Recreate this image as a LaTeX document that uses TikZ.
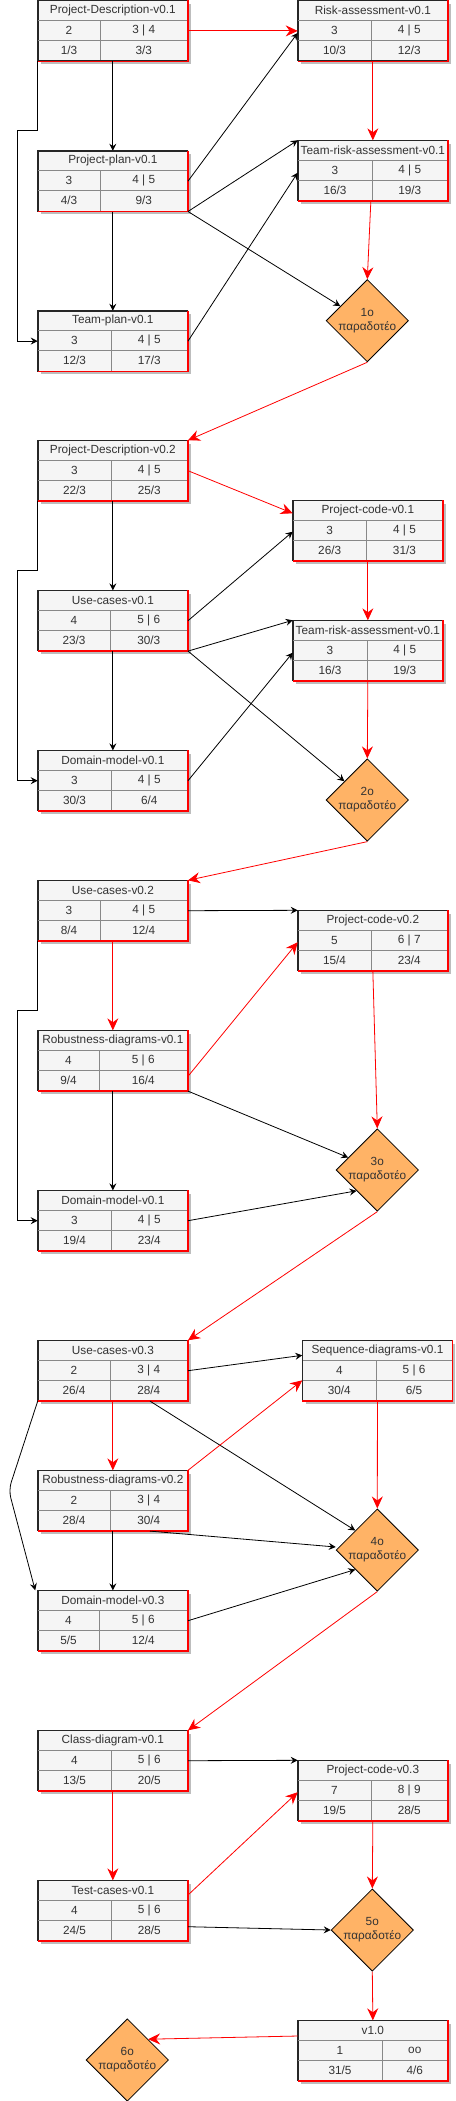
\documentclass[tikz,border=0pt]{standalone}
\usepackage{fontspec}
\setmainfont{Liberation Sans}
\usetikzlibrary{shapes.geometric,arrows.meta,shadows,calc}
\definecolor{cellfill}{HTML}{F5F5F5}
\definecolor{txt}{HTML}{333333}
\definecolor{dfill}{HTML}{FFB366}
\definecolor{shade}{HTML}{BDBDBD}
\definecolor{divc}{HTML}{888888}
\tikzset{
  tbl/.style={draw=black!85, fill=cellfill, line width=0.8pt, minimum width=149.5pt, minimum height=60pt, inner sep=0pt, anchor=north west, general shadow={fill=shade, shadow xshift=3pt, shadow yshift=-3pt}},
  divl/.style={draw=divc, line width=0.7pt},
  rededge/.style={draw=red, line width=1.3pt},
  txtn/.style={text=txt, inner sep=0pt, font=\fontsize{11.8}{14}\selectfont},
  dia/.style={diamond, aspect=1, draw=black, line width=0.8pt, fill=dfill, minimum width=80pt, minimum height=80pt, inner sep=0pt, align=center, text=txt, font=\fontsize{11.8}{14}\selectfont},
  blk/.style={draw=black, line width=0.8pt, -{Stealth[length=7pt,width=7pt,inset=2.5pt]}},
  redl/.style={draw=red, line width=0.8pt, -{Stealth[length=12pt,width=11pt,inset=4pt]}}
}
\newcommand\tbox[9]{%
  \node[tbl] (#1) at (#2,#3) {};
  \draw[divl] ($(#1.north west)+(0,20)$) -- ($(#1.north east)+(0,20)$);
  \draw[divl] ($(#1.north west)+(0,40)$) -- ($(#1.north east)+(0,40)$);
  \draw[divl] (#4,#3+20) -- (#4,#3+60);
  \draw[draw=black!85, line width=0.8pt] (#1.north east) -- (#1.north west) -- (#1.south west);
  \draw[rededge] (#1.north east) -- (#1.south east) -- (#1.south west);
  \node[txtn] at ($(#1.north)+(0,10)$) {#5};
  \node[txtn] at ({(#2+#4)/2},#3+30) {#6};
  \node[txtn] at ({(#4+#2+149.5)/2},#3+30) {#7};
  \node[txtn] at ({(#2+#4)/2},#3+50) {#8};
  \node[txtn] at ({(#4+#2+149.5)/2},#3+50) {#9};
}
\begin{document}
\begin{tikzpicture}[x=1pt,y=-1pt]
\fill[white] (0,0) rectangle (455,2101);
\useasboundingbox (0,0) rectangle (455,2101);

% boxes
\tbox{pd1}{37.7}{0.5}{100.3}{Project-Description-v0.1}{2}{3 | 4}{1/3}{3/3}
\tbox{ra1}{297.7}{0.5}{371.3}{Risk-assessment-v0.1}{3}{4 | 5}{10/3}{12/3}
\tbox{pp1}{37.7}{150.7}{100.3}{Project-plan-v0.1}{3}{4 | 5}{4/3}{9/3}
\tbox{tra1}{297.7}{140.3}{372.3}{Team-risk-assessment-v0.1}{3}{4 | 5}{16/3}{19/3}
\tbox{tp1}{37.7}{310.7}{111.3}{Team-plan-v0.1}{3}{4 | 5}{12/3}{17/3}
\tbox{pd2}{37.7}{440.3}{111.3}{Project-Description-v0.2}{3}{4 | 5}{22/3}{25/3}
\tbox{pc1}{292.7}{500.3}{366.7}{Project-code-v0.1}{3}{4 | 5}{26/3}{31/3}
\tbox{uc1}{37.7}{590.3}{110.3}{Use-cases-v0.1}{4}{5 | 6}{23/3}{30/3}
\tbox{tra2}{292.7}{620.3}{367.3}{Team-risk-assessment-v0.1}{3}{4 | 5}{16/3}{19/3}
\tbox{dm1}{37.7}{750.3}{111.3}{Domain-model-v0.1}{3}{4 | 5}{30/3}{6/4}
\tbox{uc2}{37.7}{880.3}{100.3}{Use-cases-v0.2}{3}{4 | 5}{8/4}{12/4}
\tbox{pc2}{297.7}{910.3}{371.3}{Project-code-v0.2}{5}{6 | 7}{15/4}{23/4}
\tbox{rob1}{37.7}{1030.3}{99.3}{Robustness-diagrams-v0.1}{4}{5 | 6}{9/4}{16/4}
\tbox{dm2}{37.7}{1190.3}{111.3}{Domain-model-v0.1}{3}{4 | 5}{19/4}{23/4}
\tbox{uc3}{37.7}{1340.3}{110.3}{Use-cases-v0.3}{2}{3 | 4}{26/4}{28/4}
\tbox{sd1}{302.3}{1340.3}{376.3}{Sequence-diagrams-v0.1}{4}{5 | 6}{30/4}{6/5}
\tbox{rob2}{37.7}{1470.3}{110.3}{Robustness-diagrams-v0.2}{2}{3 | 4}{28/4}{30/4}
\tbox{dm3}{37.7}{1590.3}{99.3}{Domain-model-v0.3}{4}{5 | 6}{5/5}{12/4}
\tbox{cd}{37.7}{1730.3}{111.3}{Class-diagram-v0.1}{4}{5 | 6}{13/5}{20/5}
\tbox{pc3}{297.7}{1760.3}{371.3}{Project-code-v0.3}{7}{8 | 9}{19/5}{28/5}
\tbox{tc}{37.7}{1880.3}{111.3}{Test-cases-v0.1}{4}{5 | 6}{24/5}{28/5}
\tbox{v10}{297.7}{2020.3}{382.3}{v1.0}{1}{oo}{31/5}{4/6}

% diamonds
\node[dia] (d1) at (367.3,320.7) {1ο\\παραδοτέο};
\node[dia] (d2) at (367.3,800) {2ο\\παραδοτέο};
\node[dia] (d3) at (377.3,1170) {3ο\\παραδοτέο};
\node[dia] (d4) at (377.3,1550) {4ο\\παραδοτέο};
\node[dia] (d5) at (372.3,1930) {5ο\\παραδοτέο};
\node[dia] (d6) at (127.3,2060) {6ο\\παραδοτέο};

% bend points
\coordinate (b1) at (17.3,130);
\coordinate (b2) at (17.3,570);
\coordinate (b3) at (17.3,1010);
\coordinate (b4) at (8.7,1490);

% section 1
\draw[blk] (pd1.south) -- (pp1.north);
\draw[blk] (pd1.south west) |- (b1) |- (tp1.west);
\draw[redl] (pd1.east) -- (ra1.west);
\draw[blk] (pp1.east) -- ($(ra1.west)+(0,2)$);
\draw[blk] (pp1.south east) -- (tra1.north west);
\draw[blk] (pp1.south east) -- ($(d1.west)!0.35!(d1.north)$);
\draw[blk] (pp1.south) -- (tp1.north);
\draw[blk] (tp1.east) -- ($(tra1.west)+(0,2)$);
\draw[redl] (ra1.south) -- (tra1.north);
\draw[redl] ($(tra1.south)+(-2,0)$) -- (d1.north);
\draw[redl] (d1.south) -- (pd2.north east);

% section 2
\draw[redl] (pd2.east) -- ($(pc1.north west)+(0,13)$);
\draw[blk] (pd2.south) -- (uc1.north);
\draw[blk] (pd2.south west) |- (b2) |- (dm1.west);
\draw[blk] (uc1.east) -- ($(pc1.west)+(0,1)$);
\draw[blk] (uc1.south east) -- (tra2.north west);
\draw[blk] (uc1.south east) -- ($(d2.west)!0.45!(d2.north)$);
\draw[blk] (uc1.south) -- (dm1.north);
\draw[blk] (dm1.east) -- ($(tra2.west)+(0,2)$);
\draw[redl] (pc1.south) -- (tra2.north);
\draw[redl] (tra2.south) -- (d2.north);
\draw[redl] (d2.south) -- (uc2.north east);

% section 3
\draw[blk] (uc2.east) -- (pc2.north west);
\draw[redl] (uc2.south) -- (rob1.north);
\draw[blk] (uc2.south west) |- (b3) |- (dm2.west);
\draw[redl] ($(rob1.north east)+(0,46)$) -- ($(pc2.west)+(0,1.5)$);
\draw[blk] (rob1.south east) -- ($(d3.west)!0.3!(d3.north)$);
\draw[blk] (rob1.south) -- (dm2.north);
\draw[blk] (dm2.east) -- (d3.south west);
\draw[redl] (pc2.south) -- (d3.north);
\draw[redl] (d3.south) -- (uc3.north east);

% section 4
\draw[blk] (uc3.east) -- ($(sd1.north west)+(0,15)$);
\draw[redl] (uc3.south) -- (rob2.north);
\draw[blk, rounded corners=8pt] (uc3.south west) -- (b4) -- ($(dm3.north west)+(-2.5,0)$);
\draw[blk] ($(uc3.south west)+(112.3,0)$) -- ($(d4.west)!0.47!(d4.north)$);
\draw[redl] (rob2.north east) -- ($(sd1.north west)+(0,40)$);
\draw[blk] ($(rob2.south west)+(112.3,0)$) -- ($(d4.west)+(0,-3)$);
\draw[blk] (rob2.south) -- (dm3.north);
\draw[blk] (dm3.east) -- ($(d4.west)!0.47!(d4.south)$);
\draw[redl] (sd1.south) -- (d4.north);
\draw[redl] (d4.south) -- (cd.north east);

% section 5
\draw[blk] (cd.east) -- (pc3.north west);
\draw[redl] (cd.south) -- (tc.north);
\draw[redl] ($(tc.north east)+(0,14.7)$) -- ($(pc3.west)+(0,1.5)$);
\draw[blk] ($(tc.north east)+(0,46.4)$) -- (d5.west);
\draw[redl] (pc3.south) -- (d5.north);
\draw[redl] (d5.south) -- (v10.north);
\draw[redl] ($(v10.north west)+(0,15.7)$) -- (d6.north east);
\end{tikzpicture}
\end{document}
